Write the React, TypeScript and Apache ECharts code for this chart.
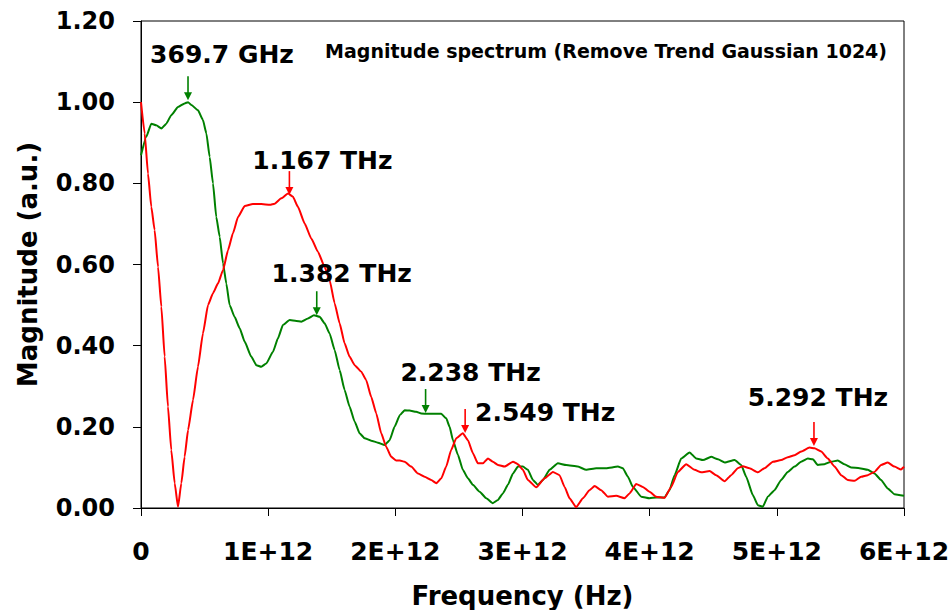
import React, { useEffect, useRef } from "react";
import * as echarts from "echarts";

// Frequencies in THz (multiplied by 1e12 when plotted), magnitudes in a.u.
const greenFreqTHz = [
  0, 0.042, 0.081, 0.12, 0.16, 0.199, 0.238, 0.291, 0.343, 0.37, 0.396, 0.448, 0.487, 0.514, 0.54,
  0.566, 0.592, 0.619, 0.645, 0.671, 0.697, 0.736, 0.776, 0.815, 0.867, 0.907, 0.946, 0.985, 1.038,
  1.077, 1.116, 1.169, 1.221, 1.26, 1.313, 1.36, 1.405, 1.444, 1.483, 1.523, 1.562, 1.601, 1.64, 1.68,
  1.719, 1.758, 1.81, 1.863, 1.916, 1.955, 1.994, 2.036, 2.073, 2.112, 2.164, 2.204, 2.256, 2.309,
  2.361, 2.4, 2.427, 2.453, 2.492, 2.531, 2.571, 2.61, 2.663, 2.715, 2.767, 2.807, 2.846, 2.885, 2.925,
  2.964, 3.003, 3.042, 3.082, 3.121, 3.16, 3.213, 3.278, 3.344, 3.436, 3.501, 3.58, 3.658, 3.75, 3.789,
  3.829, 3.868, 3.934, 3.999, 4.051, 4.117, 4.156, 4.196, 4.248, 4.314, 4.366, 4.419, 4.484, 4.537,
  4.59, 4.668, 4.72, 4.759, 4.811, 4.851, 4.89, 4.929, 4.982, 5.034, 5.086, 5.139, 5.191, 5.244, 5.283,
  5.322, 5.374, 5.427, 5.479, 5.531, 5.584, 5.65, 5.715, 5.768, 5.82, 5.872, 5.925, 6.0,
];
const greenMag = [
  0.869, 0.915, 0.947, 0.943, 0.935, 0.947, 0.968, 0.988, 0.997, 1.0, 0.993, 0.98, 0.956, 0.923, 0.865,
  0.8, 0.717, 0.668, 0.603, 0.553, 0.5, 0.471, 0.443, 0.41, 0.373, 0.352, 0.348, 0.356, 0.385,
  0.418, 0.451, 0.463, 0.461, 0.459, 0.467, 0.475, 0.471, 0.455, 0.43, 0.389, 0.34, 0.291, 0.25, 0.213,
  0.184, 0.172, 0.166, 0.161, 0.155, 0.167, 0.2, 0.229, 0.241, 0.24, 0.237, 0.233, 0.232, 0.232,
  0.232, 0.221, 0.2, 0.167, 0.131, 0.094, 0.073, 0.057, 0.04, 0.024, 0.012, 0.02, 0.036, 0.057, 0.085,
  0.102, 0.102, 0.094, 0.069, 0.057, 0.069, 0.094, 0.11, 0.106, 0.102, 0.094, 0.098, 0.098, 0.102, 0.098,
  0.077, 0.052, 0.028, 0.024, 0.026, 0.026, 0.044, 0.081, 0.122, 0.137, 0.122, 0.118, 0.126, 0.12,
  0.112, 0.118, 0.106, 0.077, 0.032, 0.007, 0.003, 0.028, 0.044, 0.069, 0.089, 0.102, 0.114, 0.122, 0.12,
  0.106, 0.108, 0.114, 0.117, 0.108, 0.1, 0.098, 0.094, 0.085, 0.069, 0.048, 0.034, 0.03,
];

const redFreqTHz = [
  0, 0.029, 0.055, 0.081, 0.107, 0.134, 0.16, 0.186, 0.212, 0.238, 0.265, 0.291, 0.317, 0.343, 0.37,
  0.409, 0.448, 0.487, 0.527, 0.566, 0.605, 0.645, 0.684, 0.723, 0.763, 0.815, 0.88, 0.946, 1.014,
  1.051, 1.103, 1.156, 1.195, 1.234, 1.287, 1.339, 1.392, 1.444, 1.483, 1.523, 1.562, 1.601, 1.64, 1.68,
  1.732, 1.771, 1.81, 1.85, 1.889, 1.928, 1.968, 2.007, 2.036, 2.073, 2.125, 2.178, 2.23, 2.282, 2.322,
  2.361, 2.4, 2.439, 2.479, 2.531, 2.571, 2.61, 2.649, 2.689, 2.728, 2.767, 2.807, 2.859, 2.925, 2.964,
  3.003, 3.042, 3.108, 3.174, 3.239, 3.291, 3.331, 3.37, 3.422, 3.475, 3.527, 3.567, 3.619, 3.671, 3.737,
  3.802, 3.842, 3.894, 3.946, 3.999, 4.051, 4.117, 4.169, 4.222, 4.287, 4.353, 4.405, 4.471, 4.523, 4.59,
  4.641, 4.693, 4.733, 4.785, 4.851, 4.903, 4.969, 5.034, 5.086, 5.139, 5.191, 5.257, 5.296, 5.349,
  5.401, 5.454, 5.506, 5.558, 5.611, 5.663, 5.715, 5.768, 5.82, 5.872, 5.925, 5.977, 6.0,
];
const redMag = [
  1.0, 0.923, 0.824, 0.742, 0.685, 0.594, 0.496, 0.373, 0.25, 0.143, 0.061, 0.003, 0.061, 0.126, 0.192,
  0.266, 0.348, 0.43, 0.5, 0.529, 0.553, 0.586, 0.635, 0.677, 0.717, 0.744, 0.749, 0.749, 0.747,
  0.75, 0.763, 0.775, 0.767, 0.742, 0.701, 0.664, 0.631, 0.594, 0.562, 0.504, 0.455, 0.406, 0.373, 0.352,
  0.336, 0.315, 0.274, 0.233, 0.184, 0.151, 0.126, 0.117, 0.117, 0.114, 0.102, 0.085, 0.077, 0.069, 0.061,
  0.073, 0.102, 0.143, 0.172, 0.184, 0.167, 0.135, 0.11, 0.11, 0.122, 0.114, 0.106, 0.102, 0.114, 0.108,
  0.094, 0.069, 0.051, 0.073, 0.089, 0.081, 0.052, 0.024, 0.002, 0.024, 0.044, 0.054, 0.044, 0.028, 0.03,
  0.024, 0.036, 0.059, 0.052, 0.04, 0.028, 0.025, 0.052, 0.089, 0.108, 0.094, 0.088, 0.091, 0.081, 0.066,
  0.081, 0.098, 0.103, 0.098, 0.088, 0.098, 0.114, 0.118, 0.125, 0.13, 0.139, 0.149, 0.147, 0.139,
  0.122, 0.102, 0.081, 0.069, 0.067, 0.077, 0.081, 0.089, 0.106, 0.112, 0.102, 0.095, 0.102,
];

// Peak annotations (frequency in THz, magnitude at arrow tip)
const peakLabels = ["369.7 GHz", "1.167 THz", "1.382 THz", "2.238 THz", "2.549 THz", "5.292 THz"];
const peakFreqTHz = [0.3697, 1.167, 1.382, 2.238, 2.549, 5.292];
const peakMag = [1.005, 0.771, 0.475, 0.234, 0.185, 0.153];
const peakSeries = ["green", "red", "green", "green", "red", "red"];

const yTicks = [0, 0.2, 0.4, 0.6, 0.8, 1.0, 1.2];

const TITLE = "Magnitude spectrum (Remove Trend Gaussian 1024)";
const X_NAME = "Frequency (Hz)";
const Y_NAME = "Magnitude (a.u.)";

// styling / layout
const COLORS: Record<string, string> = { green: "#008000", red: "#ff0000" };
const FONT = "DejaVu Sans";
const labelOffsets = [
  [34, -22],
  [33, -11],
  [25, -18],
  [45, -17],
  [80, 4],
  [4, -24],
];
const ARROW_LEN = 24;

export default function App() {
  const ref = useRef<HTMLDivElement>(null);
  useEffect(() => {
    if (!ref.current) return;
    const chart = echarts.init(ref.current, null, { renderer: "svg" });
    const toPairs = (f: number[], m: number[]) => f.map((v, i) => [v * 1e12, m[i]]);
    const option: any = {
      animation: false,
      backgroundColor: "#ffffff",
      grid: {
        left: 141,
        right: 46,
        top: 21,
        bottom: 102,
        show: true,
        borderColor: "#000",
        borderWidth: 1,
        containLabel: false,
        outerBoundsMode: "none",
      },
      title: {
        text: TITLE,
        right: 58,
        top: 36,
        textStyle: { fontFamily: FONT, fontWeight: "bold", fontSize: 19, color: "#000" },
      },
      xAxis: {
        type: "value",
        min: 0,
        max: 6e12,
        interval: 1e12,
        name: X_NAME,
        nameLocation: "middle",
        nameGap: 75,
        nameTextStyle: { fontFamily: FONT, fontWeight: "bold", fontSize: 26, color: "#000" },
        axisLine: { onZero: false, lineStyle: { color: "#000", width: 1 } },
        axisTick: { show: true, inside: false, length: 8, lineStyle: { color: "#000" } },
        axisLabel: {
          margin: 31,
          fontFamily: FONT,
          fontWeight: "bold",
          fontSize: 25,
          color: "#000",
          formatter: (v: number) => (v === 0 ? "0" : `${Math.round(v / 1e12)}E+12`),
        },
        splitLine: { show: false },
      },
      yAxis: {
        type: "value",
        min: yTicks[0],
        max: yTicks[yTicks.length - 1],
        interval: 0.2,
        name: Y_NAME,
        nameLocation: "middle",
        nameGap: 100,
        nameRotate: 90,
        nameTextStyle: { fontFamily: FONT, fontWeight: "bold", fontSize: 26, color: "#000" },
        axisLine: { show: true, onZero: false, lineStyle: { color: "#000", width: 1 } },
        axisTick: { show: true, inside: false, length: 8, lineStyle: { color: "#000" } },
        axisLabel: {
          margin: 26,
          fontFamily: FONT,
          fontWeight: "bold",
          fontSize: 24,
          color: "#000",
          formatter: (v: number) => v.toFixed(2),
        },
        splitLine: { show: false },
      },
      series: [
        {
          name: "green",
          type: "line",
          data: toPairs(greenFreqTHz, greenMag),
          showSymbol: false,
          smooth: 0.15,
          smoothMonotone: "x",
          lineStyle: { color: COLORS.green, width: 2 },
          itemStyle: { color: COLORS.green },
          z: 2,
        },
        {
          name: "red",
          type: "line",
          data: toPairs(redFreqTHz, redMag),
          showSymbol: false,
          smooth: 0.15,
          smoothMonotone: "x",
          lineStyle: { color: COLORS.red, width: 2 },
          itemStyle: { color: COLORS.red },
          z: 3,
        },
      ],
    };
    chart.setOption(option);

    const graphics: any[] = [];
    peakLabels.forEach((label, i) => {
      const p = chart.convertToPixel({ gridIndex: 0 }, [peakFreqTHz[i] * 1e12, peakMag[i]]) as number[];
      const color = COLORS[peakSeries[i]];
      const [tx, ty] = [p[0], p[1]];
      const top = ty - ARROW_LEN;
      graphics.push({
        type: "line",
        shape: { x1: tx, y1: top, x2: tx, y2: ty - 7 },
        style: { stroke: color, lineWidth: 1.6 },
        z: 10,
      });
      graphics.push({
        type: "polygon",
        shape: { points: [[tx - 4, ty - 8], [tx + 4, ty - 8], [tx, ty]] },
        style: { fill: color },
        z: 10,
      });
      graphics.push({
        type: "text",
        x: tx + labelOffsets[i][0],
        y: top + labelOffsets[i][1],
        style: {
          text: label,
          fill: "#000",
          fontFamily: FONT,
          fontWeight: "bold",
          fontSize: 25,
          align: "center",
          verticalAlign: "middle",
        },
        z: 11,
      });
    });
    chart.setOption({ graphic: graphics });

    return () => chart.dispose();
  }, []);
  return (
    <div
      ref={ref}
      style={{ position: "absolute", left: 0, top: 0, width: 950, height: 610, background: "#fff" }}
    />
  );
}
